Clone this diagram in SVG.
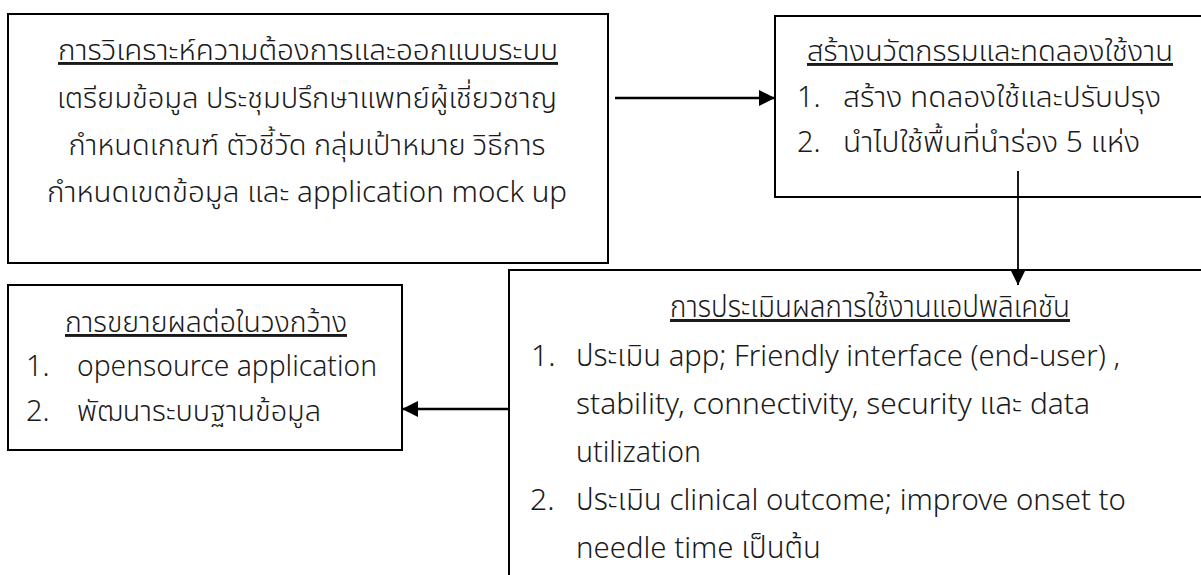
<svg xmlns="http://www.w3.org/2000/svg" width="1201" height="575" viewBox="0 0 1201 575">
  <style>
    .box { fill: #ffffff; stroke: #000000; stroke-width: 2; }
    .t { font-family: "Noto Sans Thai", "Noto Sans Thai UI", "Leelawadee UI", "Noto Sans", "DejaVu Sans", sans-serif; font-size: 29px; font-weight: 300; fill: #1a1a1a; }
    .n { font-family: "Noto Sans Thai", "Noto Sans Thai UI", "Noto Sans", "DejaVu Sans Condensed", sans-serif; font-size: 30px; font-weight: 300; fill: #1a1a1a; }
    .c { text-anchor: middle; }
    .u { text-decoration: underline; }
    .link { stroke: #000000; stroke-width: 2.5; fill: none; }
  </style>
  <defs>
    <marker id="arrow" viewBox="0 0 16 16" refX="16" refY="8" markerWidth="16" markerHeight="16" markerUnits="userSpaceOnUse" orient="auto">
      <path d="M0,0 L16,8 L0,16 Z" fill="#000000"/>
    </marker>
  </defs>
  <rect width="1201" height="575" fill="#ffffff"/>

  <!-- requirements analysis and system design -->
  <g id="node-analysis">
    <rect class="box" x="8" y="14" width="600" height="249"/>
    <text class="t c u" x="308" y="60" textLength="500" lengthAdjust="spacingAndGlyphs">การวิเคราะห์ความต้องการและออกแบบระบบ</text>
    <text class="t c" x="307" y="108" textLength="500" lengthAdjust="spacingAndGlyphs">เตรียมข้อมูล ประชุมปรึกษาแพทย์ผู้เชี่ยวชาญ</text>
    <text class="t c" x="307" y="155" textLength="477" lengthAdjust="spacingAndGlyphs">กำหนดเกณฑ์ ตัวชี้วัด กลุ่มเป้าหมาย วิธีการ</text>
    <text class="t c" x="307" y="202" textLength="520" lengthAdjust="spacingAndGlyphs">กำหนดเขตข้อมูล และ application mock up</text>
  </g>

  <!-- innovation and pilot -->
  <g id="node-innovation">
    <rect class="box" x="775" y="16" width="430" height="181"/>
    <text class="t c u" x="990" y="61" textLength="366" lengthAdjust="spacingAndGlyphs">สร้างนวัตกรรมและทดลองใช้งาน</text>
    <text class="t" x="797" y="107">1.</text>
    <text class="t" x="843" y="107" textLength="318" lengthAdjust="spacingAndGlyphs">สร้าง ทดลองใช้และปรับปรุง</text>
    <text class="t" x="797" y="152">2.</text>
    <text class="t" x="843" y="152" textLength="297" lengthAdjust="spacingAndGlyphs">นำไปใช้พื้นที่นำร่อง 5 แห่ง</text>
  </g>

  <!-- scale-up -->
  <g id="node-scaleup">
    <rect class="box" x="8" y="285" width="394" height="165"/>
    <text class="t c u" x="206" y="332" textLength="282" lengthAdjust="spacingAndGlyphs">การขยายผลต่อในวงกว้าง</text>
    <text class="t" x="26" y="376">1.</text>
    <text class="t" x="77" y="376" textLength="300" lengthAdjust="spacingAndGlyphs">opensource application</text>
    <text class="t" x="26" y="421">2.</text>
    <text class="t" x="77" y="421" textLength="244" lengthAdjust="spacingAndGlyphs">พัฒนาระบบฐานข้อมูล</text>
  </g>

  <!-- application evaluation -->
  <g id="node-evaluation">
    <rect class="box" x="509" y="270" width="700" height="320"/>
    <text class="n c u" x="870" y="317" textLength="400" lengthAdjust="spacingAndGlyphs">การประเมินผลการใช้งานแอปพลิเคชัน</text>
    <text class="n" x="531" y="366">1.</text>
    <text class="n" x="576" y="366" textLength="544" lengthAdjust="spacingAndGlyphs">ประเมิน app; Friendly interface (end-user) ,</text>
    <text class="n" x="576" y="414" textLength="514" lengthAdjust="spacingAndGlyphs">stability,  connectivity, security และ data</text>
    <text class="n" x="576" y="462" textLength="125" lengthAdjust="spacingAndGlyphs">utilization</text>
    <text class="n" x="530" y="510">2.</text>
    <text class="n" x="576" y="510" textLength="550" lengthAdjust="spacingAndGlyphs">ประเมิน clinical outcome; improve onset to</text>
    <text class="n" x="576" y="558" textLength="245" lengthAdjust="spacingAndGlyphs">needle time เป็นต้น</text>
  </g>

  <g id="connectors">
    <line class="link" x1="615" y1="98" x2="775" y2="98" marker-end="url(#arrow)"/>
    <line class="link" x1="1018" y1="171" x2="1018" y2="285" marker-end="url(#arrow)" style="stroke-width:1.8"/>
    <line class="link" x1="509" y1="409" x2="402" y2="409" marker-end="url(#arrow)"/>
  </g>
</svg>
